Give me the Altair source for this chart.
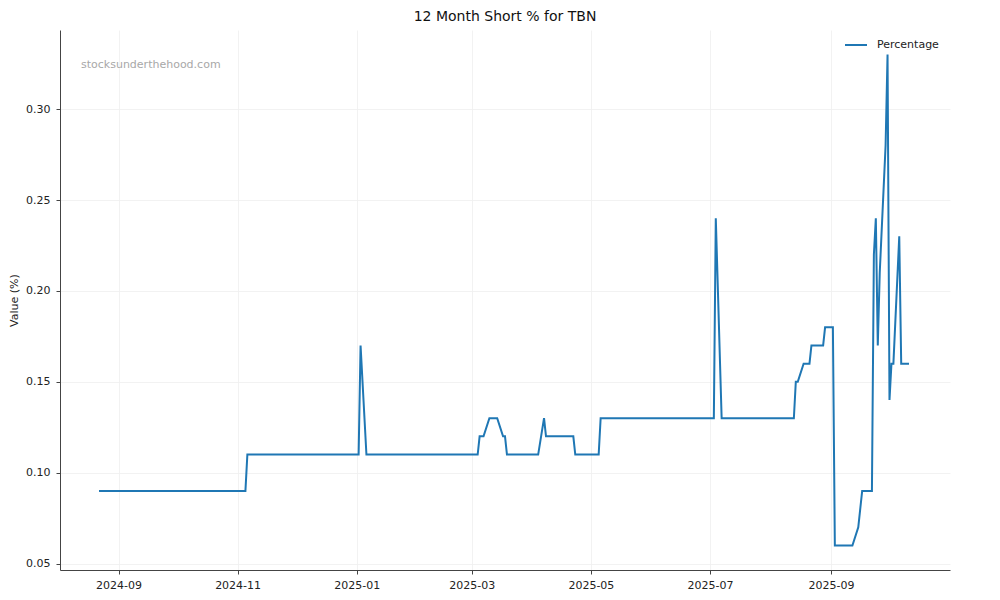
import altair as alt
import pandas as pd

# ---- data ----
dates = [
    "2024-08-22", "2024-11-05", "2024-11-06", "2025-01-02", "2025-01-03", "2025-01-06",
    "2025-03-04", "2025-03-05", "2025-03-07", "2025-03-10", "2025-03-14", "2025-03-17",
    "2025-03-18", "2025-03-19", "2025-04-04", "2025-04-07", "2025-04-08", "2025-04-22",
    "2025-04-23", "2025-05-05", "2025-05-06", "2025-07-03", "2025-07-04", "2025-07-07",
    "2025-08-13", "2025-08-14", "2025-08-15", "2025-08-18", "2025-08-21", "2025-08-22",
    "2025-08-28", "2025-08-29", "2025-09-02", "2025-09-03", "2025-09-12", "2025-09-15",
    "2025-09-17", "2025-09-22", "2025-09-23", "2025-09-24", "2025-09-25", "2025-09-26",
    "2025-09-29", "2025-09-30", "2025-10-01", "2025-10-02", "2025-10-03", "2025-10-06",
    "2025-10-07", "2025-10-11",
]
values = [
    0.09, 0.09, 0.11, 0.11, 0.17, 0.11,
    0.11, 0.12, 0.12, 0.13, 0.13, 0.12,
    0.12, 0.11, 0.11, 0.13, 0.12, 0.12,
    0.11, 0.11, 0.13, 0.13, 0.24, 0.13,
    0.13, 0.15, 0.15, 0.16, 0.16, 0.17,
    0.17, 0.18, 0.18, 0.06, 0.06, 0.07,
    0.09, 0.09, 0.22, 0.24, 0.17, 0.21,
    0.28, 0.33, 0.14, 0.16, 0.16, 0.23,
    0.16, 0.16,
]
series_name = "Percentage"
x_tick_labels = ["2024-09", "2024-11", "2025-01", "2025-03", "2025-05", "2025-07", "2025-09"]
y_ticks = [0.05, 0.10, 0.15, 0.20, 0.25, 0.30]
x_domain = ["2024-08-02", "2025-11-01"]
y_domain = [0.0465, 0.3435]
title_text = "12 Month Short % for TBN"
y_title = "Value (%)"
watermark = "stocksunderthehood.com"

df = pd.DataFrame({"date": dates, "value": values, "series": [series_name] * len(dates)})


def dt(s):
    parts = [int(p) for p in s.split("-")]
    if len(parts) == 2:
        parts.append(1)
    return alt.DateTime(year=parts[0], month=parts[1], date=parts[2], utc=True)


FONT = "DejaVu Sans"

line = alt.Chart(df).mark_line(strokeWidth=2, strokeCap="butt", strokeJoin="miter").encode(
    x=alt.X(
        "date:T",
        scale=alt.Scale(type="utc", domain=[dt(d) for d in x_domain], nice=False),
        axis=alt.Axis(
            title=None,
            values=[dt(t) for t in x_tick_labels],
            format="%Y-%m",
            labelPadding=5,
        ),
    ),
    y=alt.Y(
        "value:Q",
        scale=alt.Scale(domain=y_domain, nice=False, zero=False),
        axis=alt.Axis(
            title=y_title,
            values=y_ticks,
            format=".2f",
            labelPadding=6,
            titlePadding=6,
        ),
    ),
    color=alt.Color(
        "series:N",
        scale=alt.Scale(domain=[series_name], range=["#1f77b4"]),
        legend=alt.Legend(
            title=None,
            orient="none",
            legendX=784,
            legendY=3,
            symbolType="stroke",
            symbolSize=484,
            symbolStrokeWidth=2,
            labelFontSize=11,
            labelFont=FONT,
            labelColor="#222222",
            labelOffset=9,
            padding=0,
        ),
    ),
)

wm = alt.Chart(pd.DataFrame({"t": [watermark]})).mark_text(
    align="left", baseline="middle", fontSize=11, font=FONT, color="#a8a8a8"
).encode(x=alt.value(21), y=alt.value(35), text="t:N")

chart = (
    alt.layer(line, wm)
    .properties(
        width=890,
        height=540,
        title=alt.TitleParams(title_text, anchor="middle", fontSize=14, font=FONT,
                              fontWeight="normal", color="#111111", offset=6),
        autosize=alt.AutoSizeParams(type="none"),
        padding={"left": 52, "top": 22, "right": 42, "bottom": 22},
    )
    .configure_view(stroke=None)
    .configure_axis(
        labelFont=FONT,
        labelFontSize=11,
        labelColor="#222222",
        titleFont=FONT,
        titleFontSize=11,
        titleFontWeight="normal",
        titleColor="#222222",
        grid=True,
        gridColor="#efefef",
        gridWidth=0.8,
        domainColor="#444444",
        domainWidth=1,
        tickColor="#444444",
        tickSize=4,
        tickWidth=1,
    )
)

chart.save("out.html", embed_options={"renderer": "svg", "actions": False})
